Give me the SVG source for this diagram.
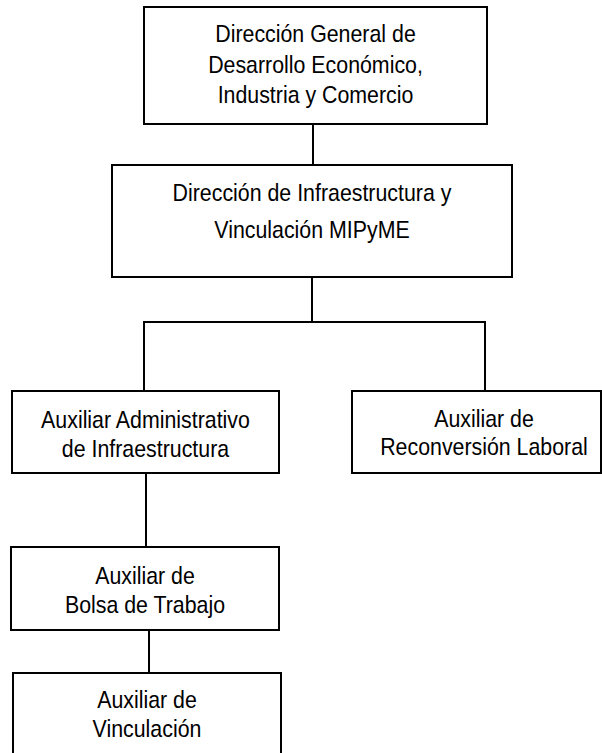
<svg xmlns="http://www.w3.org/2000/svg" width="602" height="753" viewBox="0 0 602 753">
<style>
.box{fill:#fff;stroke:#000;stroke-width:2}
.ln{stroke:#000;stroke-width:2;fill:none}
text{font-family:"Liberation Sans",Arial,sans-serif;font-size:24px;fill:#000;text-anchor:middle}
</style>
<rect x="0" y="0" width="602" height="753" fill="#fff"/>
<g id="connectors">
<line class="ln" x1="313" y1="124" x2="313" y2="165"/>
<line class="ln" x1="312" y1="277" x2="312" y2="322"/>
<polyline class="ln" points="144,391 144,322 485,322 485,391"/>
<line class="ln" x1="146" y1="473" x2="146" y2="547"/>
<line class="ln" x1="149" y1="630" x2="149" y2="673"/>
</g>
<g id="n1">
<rect class="box" x="144" y="7" width="343" height="117"/>
<g transform="translate(315.5,0) scale(0.89,1)">
<text x="0" y="42">Dirección General de</text>
<text x="0" y="73">Desarrollo Económico,</text>
<text x="0" y="103">Industria y Comercio</text>
</g>
</g>
<g id="n2">
<rect class="box" x="112" y="165" width="400" height="112"/>
<g transform="translate(312,0) scale(0.89,1)">
<text x="0" y="201">Dirección de Infraestructura y</text>
<text x="0" y="238">Vinculación MIPyME</text>
</g>
</g>
<g id="n3">
<rect class="box" x="12" y="391" width="267" height="82"/>
<g transform="translate(145.5,0) scale(0.89,1)">
<text x="0" y="428">Auxiliar Administrativo</text>
<text x="0" y="457">de Infraestructura</text>
</g>
</g>
<g id="n4">
<rect class="box" x="352" y="391" width="249" height="82"/>
<g transform="translate(484,0) scale(0.89,1)">
<text x="0" y="427">Auxiliar de</text>
<text x="0" y="455">Reconversión Laboral</text>
</g>
</g>
<g id="n5">
<rect class="box" x="11" y="547" width="268" height="83"/>
<g transform="translate(145,0) scale(0.89,1)">
<text x="0" y="584">Auxiliar de</text>
<text x="0" y="613">Bolsa de Trabajo</text>
</g>
</g>
<g id="n6">
<rect class="box" x="13" y="673" width="268" height="100"/>
<g transform="translate(147,0) scale(0.89,1)">
<text x="0" y="708">Auxiliar de</text>
<text x="0" y="737">Vinculación</text>
</g>
</g>
</svg>
